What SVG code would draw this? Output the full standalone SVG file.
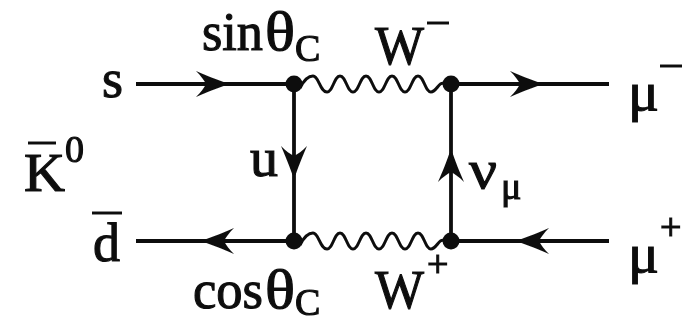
<svg xmlns="http://www.w3.org/2000/svg" width="687" height="324" viewBox="0 0 687 324">
<style>
text{font-family:"Liberation Serif","Times New Roman",serif;fill:#111;stroke:#111;stroke-width:1.1}
.m{font-size:54px}.s{font-size:38px}
.l{fill:none;stroke:#111;stroke-width:3.8}
.w{fill:none;stroke:#111;stroke-width:3}
.b{stroke:#111;stroke-width:3;fill:none}
.a{fill:#111;stroke:none}
.v{fill:#111}
</style>
<defs>
<filter id="soft" x="0" y="0" width="100%" height="100%"><feGaussianBlur stdDeviation="0.5"/></filter>
<path id="wave" class="w" d="M300 88C304 80 308 76 313 76C319 76 320 92 327 92C333 92 334 76 340 76C346 76 347 92 353 92C359 92 360 76 366 76C372 76 373 92 379 92C385 92 386 76 392 76C398 76 399 92 405 92C411 92 412 76 418 76C424 76 425 92 431 92C437 92 439 80 445 84"/>
<path id="ah" class="a" d="M-26 -13C-17 -9 -7 -5 3 -1.5L3 1.5C-7 5 -17 9 -26 13C-21 8 -18 4 -16 0C-18 -4 -21 -8 -26 -13Z"/>
</defs>
<g filter="url(#soft)">
<g id="connectors">
<path class="l" d="M136 84H294V241M451 84H609M451 84V241M136 241H294M451 241H609"/>
<use href="#wave"/>
<use href="#wave" y="157"/>
<use href="#ah" transform="translate(222 84)"/>
<use href="#ah" transform="translate(536 84)"/>
<use href="#ah" transform="translate(208 241) rotate(180)"/>
<use href="#ah" transform="translate(523 241) rotate(180)"/>
<use href="#ah" transform="translate(294 172) rotate(90)"/>
<use href="#ah" transform="translate(451 156) rotate(-90)"/>
</g>
<g id="v1"><circle class="v" cx="294" cy="84" r="8.5"/></g>
<g id="v2"><circle class="v" cx="451" cy="84" r="8.5"/></g>
<g id="v3"><circle class="v" cx="294" cy="241" r="8.5"/></g>
<g id="v4"><circle class="v" cx="451" cy="241" r="8.5"/></g>
<g id="s"><text class="m" x="102" y="97">s</text></g>
<g id="kbar"><text class="m" x="24" y="191" textLength="41" lengthAdjust="spacingAndGlyphs">K</text><text class="s" x="65" y="162" font-size="36">0</text><path class="b" d="M28 143H56"/></g>
<g id="dbar"><text class="m" x="93" y="261" textLength="27" lengthAdjust="spacingAndGlyphs">d</text><path class="b" d="M92 213H122"/></g>
<g id="u"><text class="m" x="250" y="176" textLength="28" lengthAdjust="spacingAndGlyphs">u</text></g>
<g id="sin"><text class="m" x="202" y="50" textLength="61" lengthAdjust="spacingAndGlyphs">sin</text><text class="m" x="265" y="50" textLength="30" lengthAdjust="spacingAndGlyphs">θ</text><text class="s" x="295" y="61">C</text></g>
<g id="cos"><text class="m" x="193" y="308" textLength="70" lengthAdjust="spacingAndGlyphs">cos</text><text class="m" x="265" y="308" textLength="30" lengthAdjust="spacingAndGlyphs">θ</text><text class="s" x="295" y="315">C</text></g>
<g id="wminus"><text class="m" x="375" y="64" textLength="49" lengthAdjust="spacingAndGlyphs">W</text><path class="b" d="M427 23H449"/></g>
<g id="wplus"><text class="m" x="375" y="308" textLength="49" lengthAdjust="spacingAndGlyphs">W</text><text class="s" x="427" y="277">+</text></g>
<g id="nu"><text class="m" x="469" y="188" textLength="28" lengthAdjust="spacingAndGlyphs">ν</text><text class="s" x="501" y="199">μ</text></g>
<g id="muminus"><text class="m" x="628" y="110" textLength="31" lengthAdjust="spacingAndGlyphs">μ</text><path class="b" d="M660 66H682"/></g>
<g id="muplus"><text class="m" x="628" y="272" textLength="31" lengthAdjust="spacingAndGlyphs">μ</text><text class="s" x="660" y="240">+</text></g>
</g>
</svg>
